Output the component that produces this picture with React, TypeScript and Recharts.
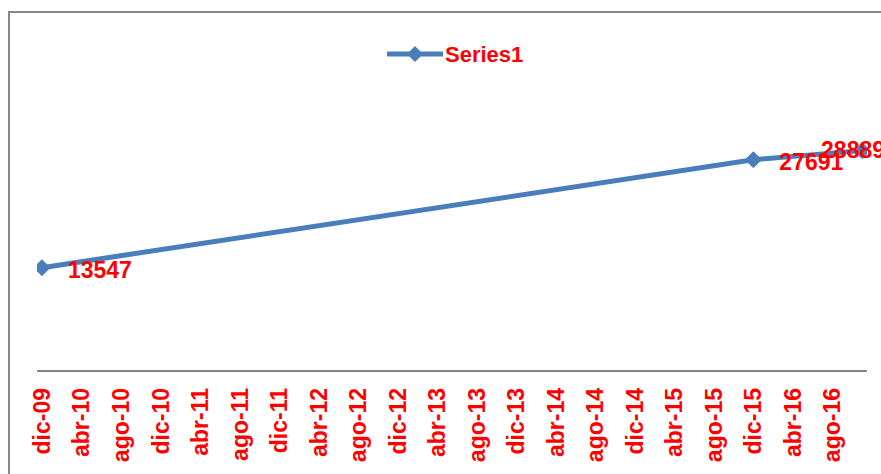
import { LineChart, Line, XAxis, YAxis, LabelList } from "recharts";

// months counted from dic-09
const MONTHS = [0, 72, 83];
const VALUES = [13547, 27691, 28889];
const TICK_LABELS = [
  "dic-09", "abr-10", "ago-10", "dic-10", "abr-11", "ago-11", "dic-11",
  "abr-12", "ago-12", "dic-12", "abr-13", "ago-13", "dic-13", "abr-14",
  "ago-14", "dic-14", "abr-15", "ago-15", "dic-15", "abr-16", "ago-16",
];
const SERIES_NAME = "Series1";

const data = MONTHS.map((m, i) => ({ month: m, value: VALUES[i] }));
const tickPositions = TICK_LABELS.map((_, i) => i * 4);

const BLUE = "#4a7ebb";
const RED = "#ff0000";
const FONT = "'Liberation Sans', Arial, sans-serif";

function Diamond({ cx, cy }: any) {
  if (cx == null || cy == null) return null;
  const r = 8;
  return (
    <polygon
      points={`${cx},${cy - r} ${cx + r},${cy} ${cx},${cy + r} ${cx - r},${cy}`}
      fill={BLUE}
      stroke={BLUE}
    />
  );
}

function MonthTick({ x, payload }: any) {
  return (
    <g transform={`translate(${x},388)`}>
      <text
        transform="rotate(-90)"
        textAnchor="end"
        dy={8}
        fill={RED}
        fontFamily={FONT}
        fontWeight="bold"
        fontSize={23}
      >
        {TICK_LABELS[payload.value / 4]}
      </text>
    </g>
  );
}

function ValueLabel({ x, y, value, index }: any) {
  // last label sits left of its point (Excel kept it inside the chart area)
  const last = index === data.length - 1;
  return (
    <text
      x={last ? x - 41 : x + 26}
      y={last ? y + 7 : y + 10}
      fill={RED}
      fontFamily={FONT}
      fontWeight="bold"
      fontSize={23}
    >
      {value}
    </text>
  );
}

function LegendBox() {
  return (
    <svg
      width={150}
      height={30}
      style={{ position: "absolute", left: 385, top: 39 }}
    >
      <line x1={2} y1={15} x2={58} y2={15} stroke={BLUE} strokeWidth={5} />
      <polygon points="30,7 38,15 30,23 22,15" fill={BLUE} />
      <text
        x={60}
        y={23}
        fill={RED}
        fontFamily={FONT}
        fontWeight="bold"
        fontSize={22}
      >
        {SERIES_NAME}
      </text>
    </svg>
  );
}

export default function App() {
  return (
    <div
      style={{
        position: "absolute",
        left: 0,
        top: 0,
        width: 881,
        height: 474,
        overflow: "hidden",
        background: "#fff",
      }}
    >
      <div
        style={{
          position: "absolute",
          left: 8,
          top: 11,
          width: 1000,
          height: 600,
          border: "2px solid #868686",
        }}
      />
      <div style={{ position: "absolute", left: 0, top: 0 }}>
        <LineChart
          width={881}
          height={474}
          data={data}
          margin={{ top: 104, right: 14, bottom: 0, left: 37 }}
        >
          <XAxis
            dataKey="month"
            type="number"
            domain={[-0.5, 83.5]}
            ticks={tickPositions}
            interval={0}
            tickLine={false}
            axisLine={{ stroke: "#868686", strokeWidth: 2 }}
            tick={<MonthTick />}
            height={103}
            allowDataOverflow
          />
          <YAxis hide domain={[0, 35000]} />
          <Line
            type="linear"
            dataKey="value"
            name={SERIES_NAME}
            stroke={BLUE}
            strokeWidth={5}
            dot={<Diamond />}
            activeDot={false}
            isAnimationActive={false}
          >
            <LabelList dataKey="value" content={<ValueLabel />} />
          </Line>
        </LineChart>
      </div>
      <LegendBox />
    </div>
  );
}
